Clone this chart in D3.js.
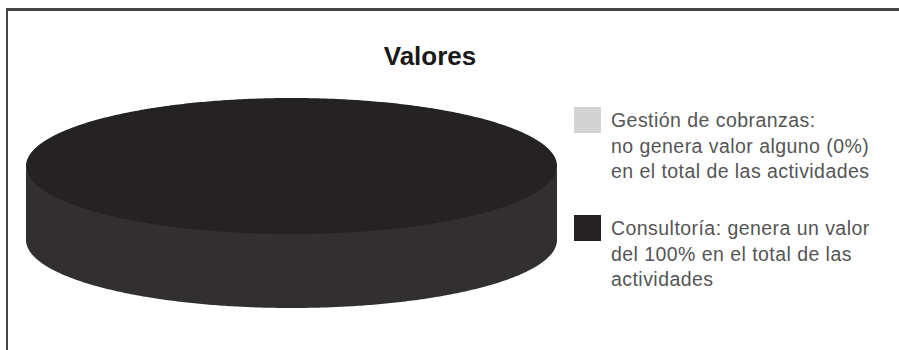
<!DOCTYPE html>
<html>
<head>
<meta charset="utf-8">
<script src="https://cdn.jsdelivr.net/npm/d3@7"></script>
<style>
  html, body { margin: 0; padding: 0; background: #fff; }
  svg { display: block; }
  text { font-family: "Liberation Sans", Arial, sans-serif; }
</style>
</head>
<body>
<svg id="chart" width="899" height="350"></svg>
<script>
// data
var categories = ["Gestión de cobranzas", "Consultoría"];
var values = [0, 100];
var sliceColors = ["#d3d3d3", "#242223"];
var legendLines = [
	["Gestión de cobranzas:", "no genera valor alguno (0%)", "en el total de las actividades"],
	["Consultoría: genera un valor", "del 100% en el total de las", "actividades"]
];
var title = "Valores";

var svg = d3.select("#chart");

// frame (top + left edge only, the rest is cropped in the original)
svg.append("line")
	.attr("x1", 6).attr("x2", 899).attr("y1", 9.5).attr("y2", 9.5)
	.attr("stroke", "#454545").attr("stroke-width", 3);
svg.append("line")
	.attr("x1", 7).attr("x2", 7).attr("y1", 8).attr("y2", 350)
	.attr("stroke", "#454545").attr("stroke-width", 2);

// title
svg.append("text")
	.attr("x", 430).attr("y", 65)
	.attr("text-anchor", "middle")
	.attr("font-size", 26).attr("font-weight", "bold")
	.attr("fill", "#1a1a1a")
	.text(title);

//************ 3D PIE ************

var cx = 291.5, cy = 166, rx = 265.5, ry = 68, depth = 74;

var pie = d3.pie().sort(null).value(function(d) { return d; });
var arcs = pie(values);

// ellipse point for a pie angle (0 = 12 o'clock, clockwise)
function pt(a, dy) {
	return [cx + rx * Math.sin(a), cy - ry * Math.cos(a) + (dy || 0)];
}
function sample(a0, a1) {
	var n = Math.max(2, Math.ceil(Math.abs(a1 - a0) / 0.01));
	return d3.range(n + 1).map(function(i) { return a0 + (a1 - a0) * i / n; });
}
var line = d3.line();

function shade(c, k) {
	return d3.rgb(c).brighter(k).formatHex();
}

// side walls: only the front half (pi/2 .. 3pi/2) is visible
arcs.forEach(function(d, i) {
	if (d.endAngle - d.startAngle <= 0) return;
	var a0 = Math.max(d.startAngle, Math.PI / 2);
	var a1 = Math.min(d.endAngle, Math.PI * 3 / 2);
	if (a1 <= a0) return;
	var angs = sample(a0, a1);
	var pts = angs.map(function(a) { return pt(a, -1); })
		.concat(angs.slice().reverse().map(function(a) { return pt(a, depth); }));
	svg.append("path")
		.attr("d", line(pts) + "Z")
		.attr("fill", shade(sliceColors[i], 0.9));
});

// top faces
arcs.forEach(function(d, i) {
	if (d.endAngle - d.startAngle <= 0) return;
	var full = d.endAngle - d.startAngle >= Math.PI * 2 - 1e-6;
	var pts = sample(d.startAngle, d.endAngle).map(function(a) { return pt(a); });
	if (!full) pts = [[cx, cy]].concat(pts);
	svg.append("path")
		.attr("d", line(pts) + "Z")
		.attr("fill", sliceColors[i]);
});

//************ LEGEND ************

var legendY = [107, 215];
var legend = svg.append("g").selectAll("g")
	.data(categories)
	.join("g")
	.attr("transform", function(d, i) { return "translate(574," + legendY[i] + ")"; });

legend.append("rect")
	.attr("width", 27).attr("height", 26)
	.attr("fill", function(d, i) { return sliceColors[i]; });

legend.append("text")
	.attr("x", 37).attr("y", 20)
	.attr("font-size", 19.5)
	.attr("letter-spacing", 0.45)
	.attr("fill", "#555")
	.selectAll("tspan")
	.data(function(d, i) { return legendLines[i]; })
	.join("tspan")
	.attr("x", 37)
	.attr("dy", function(d, j) { return j ? 25.5 : 0; })
	.text(function(d) { return d; });
</script>
</body>
</html>
